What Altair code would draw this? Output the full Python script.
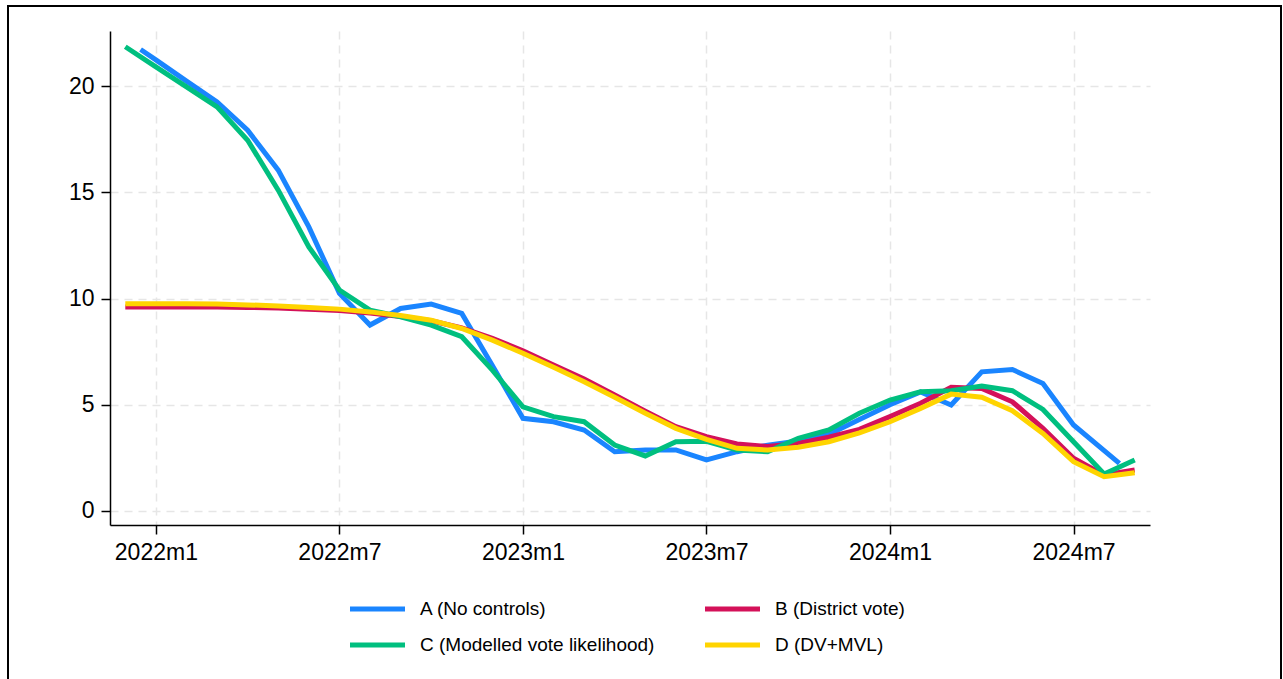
import altair as alt
import pandas as pd

# Month index: 0 = 2022m1
months = list(range(-1, 33))  # 2021m12 .. 2024m9
a_months = [-0.5] + list(range(0, 31)) + [31.5]

series_names = [
    "A (No controls)",
    "B (District vote)",
    "C (Modelled vote likelihood)",
    "D (DV+MVL)",
]
series_colors = ["#1a85ff", "#d41159", "#00bf7f", "#ffd400"]

a_vals = [21.72, 21.23, 20.23, 19.25, 17.92, 16.04, 13.37, 10.24, 8.75, 9.53,
          9.74, 9.30, 6.85, 4.36, 4.20, 3.81, 2.79, 2.87, 2.87, 2.40,
          2.79, 3.10, 3.30, 3.60, 4.30, 5.00, 5.60, 4.99, 6.55, 6.66,
          6.00, 4.05, 2.24]
b_vals = [9.60, 9.60, 9.60, 9.60, 9.58, 9.55, 9.50, 9.43, 9.32, 9.15,
          8.95, 8.62, 8.12, 7.54, 6.87, 6.21, 5.46, 4.70, 3.97, 3.50,
          3.15, 3.03, 3.18, 3.47, 3.84, 4.44, 5.07, 5.82, 5.77, 5.14,
          3.89, 2.48, 1.69, 1.93]
c_vals = [21.85, 20.90, 19.96, 19.02, 17.45, 15.10, 12.43, 10.40, 9.45, 9.14,
          8.75, 8.20, 6.63, 4.90, 4.44, 4.20, 3.10, 2.59, 3.26, 3.28,
          2.87, 2.79, 3.42, 3.81, 4.60, 5.22, 5.61, 5.66, 5.88, 5.66,
          4.78, 3.26, 1.74, 2.40]
d_vals = [9.75, 9.75, 9.75, 9.74, 9.70, 9.65, 9.58, 9.50, 9.37, 9.20,
          8.98, 8.59, 8.04, 7.42, 6.76, 6.08, 5.35, 4.60, 3.89, 3.37,
          2.95, 2.87, 3.00, 3.26, 3.68, 4.20, 4.83, 5.50, 5.35, 4.72,
          3.65, 2.32, 1.61, 1.80]

x_ticks = [0, 6, 12, 18, 24, 30]
y_ticks = [0, 5, 10, 15, 20]

frames = [
    pd.DataFrame({"month": a_months, "value": a_vals, "series": series_names[0]}),
    pd.DataFrame({"month": months, "value": b_vals, "series": series_names[1]}),
    pd.DataFrame({"month": months, "value": c_vals, "series": series_names[2]}),
    pd.DataFrame({"month": months, "value": d_vals, "series": series_names[3]}),
]
df = pd.concat(frames, ignore_index=True)

FONT = "Liberation Sans"
W, H = 1040, 494
color_scale = alt.Scale(domain=series_names, range=series_colors)

axis_common = dict(
    title=None,
    grid=True,
    gridDash=[8, 6],
    gridColor="#e6e6e6",
    gridWidth=1.5,
    domainColor="black",
    domainWidth=1.5,
    tickColor="black",
    tickWidth=1.5,
    tickSize=9,
    labelPadding=7,
    labelFontSize=23,
    labelFont=FONT,
    labelColor="black",
)

lines = alt.Chart(df).mark_line(strokeWidth=5, clip=False).encode(
    x=alt.X(
        "month:Q",
        scale=alt.Scale(domain=[-1.5, 32.5], nice=False, zero=False),
        axis=alt.Axis(
            values=x_ticks,
            labelExpr="(2022 + floor(datum.value / 12)) + 'm' + (datum.value % 12 + 1)",
            **axis_common,
        ),
    ),
    y=alt.Y(
        "value:Q",
        scale=alt.Scale(domain=[-0.66, 22.59], nice=False, zero=False),
        axis=alt.Axis(values=y_ticks, **axis_common),
    ),
    color=alt.Color("series:N", scale=color_scale, legend=None),
)

# Two-column key below the plot (row-major: A B / C D), laid out in pixels
KEY_LEFT = [240, 595]
KEY_TOP = 578
KEY_ROW_GAP = 36
KEY_SYMBOL = 55
KEY_GAP = 15
legend_rows = []
for i, name in enumerate(series_names):
    col, row = i % 2, i // 2
    x0 = KEY_LEFT[col]
    legend_rows.append({
        "series": name,
        "sx": x0,
        "sx2": x0 + KEY_SYMBOL,
        "lx": x0 + KEY_SYMBOL + KEY_GAP,
        "ly": KEY_TOP + row * KEY_ROW_GAP,
    })
legend_df = pd.DataFrame(legend_rows)

px_x = alt.Scale(domain=[0, W], range=[0, W])
px_y = alt.Scale(domain=[0, H], range=[0, H])

key_base = alt.Chart(legend_df)
key_lines = key_base.mark_rule(strokeWidth=5, clip=False).encode(
    x=alt.X("sx:Q", scale=px_x, axis=None),
    x2="sx2:Q",
    y=alt.Y("ly:Q", scale=px_y, axis=None),
    color=alt.Color("series:N", scale=color_scale, legend=None),
)
key_text = key_base.mark_text(
    align="left", baseline="middle", font=FONT, fontSize=19, color="black", clip=False
).encode(
    x=alt.X("lx:Q", scale=px_x, axis=None),
    y=alt.Y("ly:Q", scale=px_y, axis=None),
    text="series:N",
)

# Outer border around the whole figure
border = alt.Chart(pd.DataFrame({"k": [0]})).mark_rect(
    fill=None, stroke="black", strokeWidth=2, clip=False
).encode(
    x=alt.value(-102), x2=alt.value(1171), y=alt.value(-25), y2=alt.value(700)
)

chart = alt.layer(border, lines, key_lines, key_text).resolve_scale(
    x="independent", y="independent"
).properties(
    width=W,
    height=H,
    padding={"left": 110, "top": 31, "right": 133, "bottom": 154},
    autosize=alt.AutoSizeParams(type="none"),
    background="white",
).configure_view(stroke=None)

chart.save("out.html", embed_options={"renderer": "svg", "actions": False})
